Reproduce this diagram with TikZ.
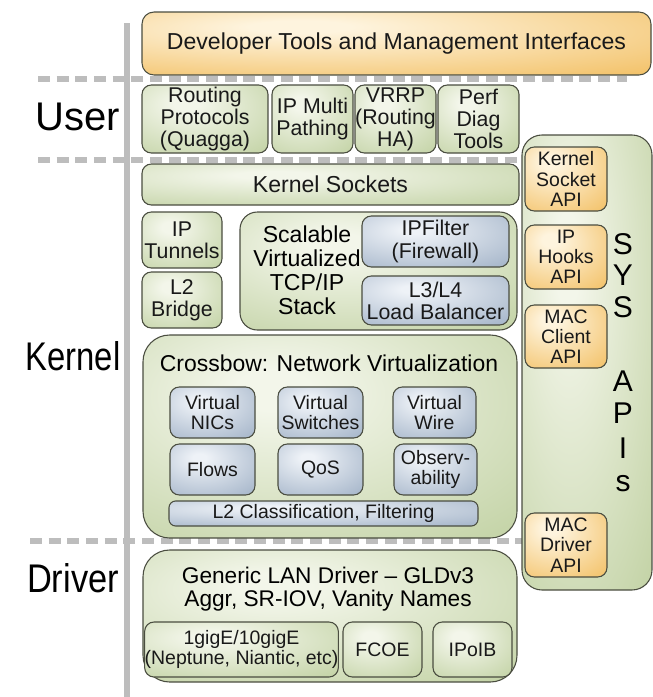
\documentclass[tikz,border=0pt]{standalone}
\usepackage{fontspec}
\setmainfont{Liberation Sans}
\definecolor{bord}{HTML}{4A4D40}
\definecolor{gin}{HTML}{F3F6EA}
\definecolor{gout}{HTML}{C2D2A4}
\definecolor{bin}{HTML}{EEF2F7}
\definecolor{bout}{HTML}{A6B6CA}
\definecolor{oin}{HTML}{FEF4DE}
\definecolor{oout}{HTML}{F3C269}
\definecolor{sep}{HTML}{BDBDBD}
\pgfdeclareradialshading{gsh}{\pgfpoint{-8bp}{12bp}}{color(0bp)=(gin); color(5bp)=(gin); color(44bp)=(gout); color(100bp)=(gout)}
\pgfdeclareradialshading{bsh}{\pgfpoint{-8bp}{12bp}}{color(0bp)=(bin); color(4bp)=(bin); color(42bp)=(bout); color(100bp)=(bout)}
\pgfdeclareradialshading{osh}{\pgfpoint{-10bp}{14bp}}{color(0bp)=(oin); color(5bp)=(oin); color(44bp)=(oout); color(100bp)=(oout)}
\newcommand\bx[8]{%
\node[#1, minimum width={(#5-#3)*0.75pt}, minimum height={(#6-#4)*0.75pt}] (#2) at ({(#3+#5)/2},{(#4+#6)/2}) {#7#8};}
\tikzset{
  base/.style={draw=bord, line width=0.8pt, rounded corners=7pt, inner sep=0pt, align=center, text=black!90},
  gbox/.style={base, shade, shading=gsh},
  bbox/.style={base, shade, shading=bsh},
  obox/.style={base, shade, shading=osh},
  fa/.style={font=\fontsize{14.6}{15.2}\selectfont},
  fb/.style={font=\fontsize{16}{16.6}\selectfont},
  fc/.style={font=\fontsize{17.3}{18}\selectfont},
  flab/.style={font=\fontsize{30}{32}\selectfont, inner sep=0pt},
  fsys/.style={font=\fontsize{22.5}{24}\selectfont, inner sep=0pt, text height=16pt, text depth=0pt},
  sepline/.style={draw=sep, line width=4.5pt, dash pattern=on 9pt off 5pt},
}
\begin{document}
\begin{tikzpicture}[x=0.75pt,y=-0.75pt]
\useasboundingbox (0,0) rectangle (653,697);
% layer separators
\coordinate (vt) at (127,23); \coordinate (vb) at (127,697);
\draw[sep, line width=4pt] (vt) -- (vb);
\coordinate (d1a) at (38,79);  \coordinate (d1b) at (627,79);
\coordinate (d2a) at (38,160); \coordinate (d2b) at (520,160);
\coordinate (d3a) at (30,541); \coordinate (d3b) at (522,541);
\draw[sepline] (d1a) -- (d1b);
\draw[sepline] (d2a) -- (d2b);
\draw[sepline] (d3a) -- (d3b);
% labels
\node[flab] (user) at (78,117) {User};
\node[flab] (kern) at (73,356) {\scalebox{0.82}[1]{Kernel}};
\node[flab] (drv) at (73,578) {\scalebox{0.86}[1]{Driver}};
% top
\bx{obox,fc,rounded corners=9pt}{dev}{142}{12}{651}{75}{}{Developer Tools and Management Interfaces}
% user row
\bx{gbox,fb}{rout}{142}{85}{268}{153}{}{Routing\\Protocols\\(Quagga)}
\bx{gbox,fb}{ipmp}{272}{85}{353}{153}{}{IP Multi\\Pathing}
\bx{gbox,fb}{vrrp}{355}{85}{436}{153}{}{VRRP\\(Routing\\HA)}
\bx{gbox,fb}{perf}{438}{85}{519}{153}{}{Perf\\Diag\\Tools}
% kernel
\bx{gbox,fc}{ksock}{142}{164}{519}{205}{}{Kernel Sockets}
\bx{gbox,fb}{iptun}{142}{212}{222}{268}{}{IP\\Tunnels}
\bx{gbox,fb}{l2br}{142}{272}{222}{328}{}{L2\\Bridge}
\bx{gbox,rounded corners=13pt}{stack}{240}{212}{517}{330}{}{}
\node[align=center, inner sep=0pt, font=\fontsize{17.3}{18}\selectfont] (stacktxt) at (307,270) {Scalable\\Virtualized\\TCP/IP\\Stack};
\bx{bbox,fb}{ipf}{362}{216}{509}{267}{}{IPFilter\\(Firewall)}
\bx{bbox,fb}{lb}{362}{276}{509}{325}{}{L3/L4\\Load Balancer}
% crossbow
\bx{gbox,rounded corners=20pt}{xbow}{143}{335}{517}{538}{}{}
\node[inner sep=0pt, font=\fontsize{17.2}{18}\selectfont] (xbowt) at (329,363) {Crossbow: Network Virtualization};
\bx{bbox,fa}{vnic}{170}{387}{255}{438}{}{Virtual\\NICs}
\bx{bbox,fa}{vsw}{278}{387}{363}{438}{}{Virtual\\Switches}
\bx{bbox,fa}{vwire}{393}{387}{476}{438}{}{Virtual\\Wire}
\bx{bbox,fa}{flows}{170}{444}{255}{495}{}{Flows}
\bx{bbox,fa}{qos}{278}{444}{363}{495}{}{QoS}
\bx{bbox,fa}{obs}{394}{444}{477}{495}{}{Observ-\\ability}
\bx{bbox,fa,rounded corners=5pt}{l2c}{169}{501}{478}{526}{}{L2 Classification, Filtering}
% driver
\bx{gbox,rounded corners=20pt}{drvbox}{143}{550}{517}{682}{}{}
\node[inner sep=0pt, align=center, font=\fontsize{17}{17.5}\selectfont] (glt) at (328,589) {Generic LAN Driver -- GLDv3\\Aggr, SR-IOV, Vanity Names};
\bx{gbox,fa}{gige}{150}{622}{333}{677}{}{1gigE/10gigE\\(Neptune, Niantic, etc)}
\bx{gbox,fa}{fcoe}{343}{622}{422}{677}{}{FCOE}
\bx{gbox,fa}{ipoib}{433}{622}{512}{677}{}{IPoIB}
% SYS APIs
\bx{gbox,rounded corners=15pt}{sys}{522}{135}{652}{590}{}{}
\bx{obox,fa}{ksapi}{525}{147}{607}{211}{}{Kernel\\Socket\\API}
\bx{obox,fa}{ihapi}{525}{225}{607}{289}{}{IP\\Hooks\\API}
\bx{obox,fa}{mcapi}{525}{305}{607}{368}{}{MAC\\Client\\API}
\bx{obox,fa}{mdapi}{525}{513}{607}{577}{}{MAC\\Driver\\API}
\node[fsys] (s1) at (623,244) {S};
\node[fsys] (y1) at (623,275) {Y};
\node[fsys] (s2) at (623,307) {S};
\node[fsys] (a1) at (623,381) {A};
\node[fsys] (p1) at (623,413) {P};
\node[fsys] (i1) at (623,448) {I};
\node[fsys] (s3) at (623,481) {s};
\end{tikzpicture}
\end{document}
